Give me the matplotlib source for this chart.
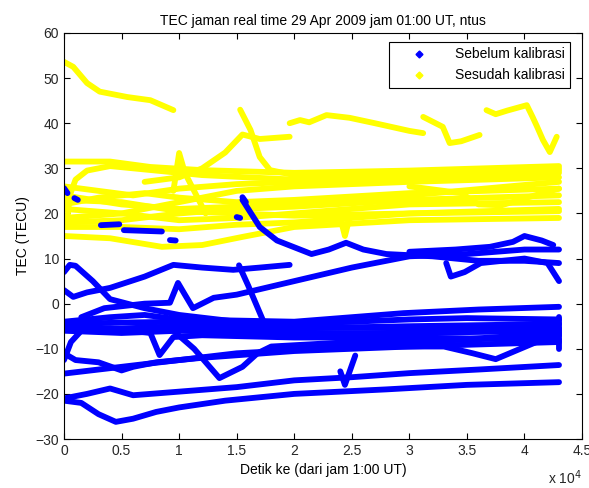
import numpy as np
import matplotlib
matplotlib.use('Agg')
import matplotlib.pyplot as plt
from matplotlib.lines import Line2D

plt.rcParams['font.family'] = ['Liberation Sans', 'DejaVu Sans']

# time in units of 1000 s, TEC in TECU
# before calibration (blue)
sebelum = [
    ([0, 1.5, 3, 4.5, 6, 8, 10, 14, 20, 28, 35, 43], [-21.5, -22, -24.5, -26.2, -25.5, -24, -23, -21.5, -20, -19, -18, -17.4]),
    ([0, 2, 4, 6, 10, 15, 20, 25, 30, 36, 43], [-21, -20, -18.8, -20.3, -19.5, -18.5, -17, -16.3, -15.4, -14.6, -13.6]),
    ([0, 5, 10, 15, 20, 30, 43], [-15.5, -14, -12.5, -11, -10.3, -8.7, -6.5]),
    ([0, 1, 3, 5, 6, 8, 12, 20, 30, 43], [-11, -12.5, -13, -14.8, -14, -13, -12, -10.5, -9.5, -8.5]),
    ([0, 0.6, 1.5, 4, 7.5, 8.3, 9.5, 12, 20, 30, 43], [-12.5, -8.5, -6, -5.5, -6.5, -11.4, -7.4, -7, -7.5, -7.5, -8]),
    ([0, 5, 10, 15, 20, 25, 30, 35, 43], [-4.5, -4.2, -4, -4.3, -4.5, -4, -3.5, -3.2, -3.5]),
    ([0, 5, 10, 20, 30, 43], [-5.5, -5.5, -5, -5.5, -5, -4.5]),
    ([0, 5, 10, 20, 30, 43], [-6, -6.5, -6, -6.5, -6.5, -6]),
    ([0, 2, 4, 7, 10, 20, 29.5, 36, 43], [-4, -3.5, -3, -2.5, -3.5, -4, -2.1, -1.3, -0.7]),
    ([0, 0.5, 1, 2.5, 4, 7, 10, 15, 20, 30, 43], [7, 8.6, 8.4, 5, 1, -1, -2.5, -4, -5, -5.5, -5.5]),
    ([1.5, 3.5, 7, 9.2, 9.9, 10.5, 11.2, 13, 15, 20, 25, 30, 35, 40, 43], [-3, -1, 0, 0.2, 4.6, 2, -1, 1.3, 2, 5, 8, 10.5, 11, 12, 12]),
    ([0, 0.8, 2, 4, 7, 9.5, 12, 14.7, 17, 19.6], [3, 1.5, 2.5, 3.5, 6, 8.6, 8, 7.5, 8, 8.6]),
    ([15.5, 16, 17, 18.5, 20, 21.5, 23, 24.5, 26, 28, 32, 36, 40, 43], [23, 21, 17, 14, 12.5, 11, 12, 13.5, 12, 11, 10.5, 9.5, 9.5, 9]),
    ([33.2, 33.6, 34.8, 36.2, 40, 42, 43], [9, 6, 7, 9, 10, 9, 5]),
    ([30, 34, 37, 39, 40, 41.5, 42.5], [11.5, 12, 12.6, 13.7, 15, 14, 13]),
    ([15.2, 16, 17.3], [8.5, 4, -3.8]),
    ([9.5, 11.3, 13.5, 15.5, 16.8, 18, 25, 35, 43], [-6, -10, -16.5, -14, -11, -9.5, -8.5, -8, -7]),
    ([28, 33, 35.5, 37.5, 41.5, 42.5], [-9.5, -9.5, -11, -12.3, -8, -7]),
    ([24, 24.4, 25.3], [-15, -18, -11.5]),
    ([43, 43], [-3, -10]),
    ([0, 0.3], [25.6, 24.5]),
    ([0.9, 1.2], [23.4, 23]),
    ([3.2, 4.8], [17.4, 17.6]),
    ([5.2, 8.5], [16.3, 16]),
    ([9.2, 9.7], [14.1, 14]),
    ([15.5, 15.8], [23.6, 22.5]),
    ([15, 15.3], [19.2, 19]),
]

# after calibration (yellow)
sesudah = [
    ([0, 0.8, 2, 3.1, 5.5, 7.5, 9.5], [53.6, 52.5, 48.9, 47, 45.8, 45.1, 42.9]),
    ([7, 10, 12, 14, 15.5, 17, 19.6], [27, 28, 30, 33.5, 37.5, 36.5, 37]),
    ([15.3, 16.2, 17, 17.9, 20, 25, 30, 43], [43, 38.5, 32.5, 29.6, 28.5, 28.5, 29, 29.5]),
    ([19.6, 20.5, 21.3, 22.8, 24.8, 27, 30, 31.2], [40, 40.7, 40.2, 41.8, 41.2, 40, 38.3, 37.8]),
    ([31.2, 32.9, 33.5, 34.5, 36.1], [41.4, 39.2, 35.6, 36, 37.4]),
    ([36.7, 37.5, 38.5, 40.2, 40.7, 41.1, 41.6, 42.2, 42.8], [42.9, 42, 42.8, 44, 41.4, 39.2, 36.3, 33.6, 37]),
    ([0, 4, 7.5, 12, 20, 30, 43], [31.5, 31.5, 30.3, 29.6, 29, 29.5, 30.5]),
    ([0.3, 0.5, 1, 2, 4, 8, 12, 20, 30, 43], [19, 24, 27.5, 29.5, 30.5, 29.5, 28.5, 27.5, 28, 29]),
    ([0, 4, 8.5, 12, 15.5, 20, 30, 43], [15, 14.5, 12.6, 13, 14.8, 17, 18.5, 19]),
    ([0, 5, 10, 15, 20, 30, 43], [17, 17, 16.5, 17.5, 18, 20, 21]),
    ([0, 5, 10, 15, 20, 30, 43], [21, 20, 18.5, 19, 20, 22, 22.5]),
    ([0, 3, 7, 10, 15, 20, 30, 43], [22, 23.5, 24.5, 23.5, 22.5, 23, 24.5, 25.5]),
    ([0, 5, 10, 15, 20, 30, 43], [24, 22, 21, 21.5, 22, 24, 27]),
    ([0, 5, 10, 15, 20, 30, 43], [19, 20, 22.5, 25, 26, 27, 28]),
    ([0, 5, 10, 15, 20, 30, 43], [18, 18.5, 20, 21, 21.5, 23, 24]),
    ([0, 5, 10, 20, 30, 43], [23, 22.5, 20.5, 19.5, 20, 20.5]),
    ([30, 34.5, 36, 38, 40.2, 43], [26, 24.5, 22, 21.8, 23.5, 25.5]),
    ([9.5, 10, 10.5, 12.3], [25, 33.4, 29, 20]),
    ([24, 24.4, 24.8], [19, 15, 19]),
    ([0, 3, 6, 10, 15, 20, 30, 43], [26, 25, 24, 25.5, 26.5, 27, 28, 30]),
    ([43, 43], [43.6, 43.6]),
]

xticks = [0, 0.5, 1, 1.5, 2, 2.5, 3, 3.5, 4, 4.5]
yticks = [-30, -20, -10, 0, 10, 20, 30, 40, 50, 60]

fig = plt.figure(figsize=(5.89, 4.88), dpi=100)
ax = fig.add_axes([0.1087, 0.1004, 0.8795, 0.832])

for t, y in sesudah:
    ax.plot(np.array(t) * 1000, y, '-', color=(1, 1, 0), lw=4.2,
            solid_capstyle='round', solid_joinstyle='round')
for t, y in sebelum:
    ax.plot(np.array(t) * 1000, y, '-', color=(0, 0, 1), lw=4.2,
            solid_capstyle='round', solid_joinstyle='round')

ax.set_xlim(0, 45000)
ax.set_ylim(-30, 60)
ax.set_xticks([v * 1e4 for v in xticks])
ax.set_xticklabels([('%g' % v) for v in xticks])
ax.set_yticks(yticks)
ax.tick_params(direction='in', top=True, right=True, length=4, labelsize=10,
               labelcolor='#262626')
for s in ax.spines.values():
    s.set_linewidth(0.8)

ax.set_title('TEC jaman real time 29 Apr 2009 jam 01:00 UT, ntus', fontsize=10)
ax.set_xlabel('Detik ke (dari jam 1:00 UT)', fontsize=10)
ax.set_ylabel('TEC (TECU)', fontsize=10)
ax.text(1.0, -0.112, r'x 10$^4$', transform=ax.transAxes, ha='right', va='baseline',
        fontsize=10, color='#262626')

handles = [Line2D([], [], ls='none', marker='D', ms=3.5, color=(0, 0, 1)),
           Line2D([], [], ls='none', marker='D', ms=3.5, color=(1, 1, 0))]
leg = ax.legend(handles, ['Sebelum kalibrasi', 'Sesudah kalibrasi'], loc='upper right',
                bbox_to_anchor=(0.977, 0.978), borderaxespad=0, fancybox=False,
                edgecolor='black', fontsize=10, handlelength=3.5, framealpha=1)
leg.get_frame().set_linewidth(0.8)

fig.savefig('out.png', dpi=100)
